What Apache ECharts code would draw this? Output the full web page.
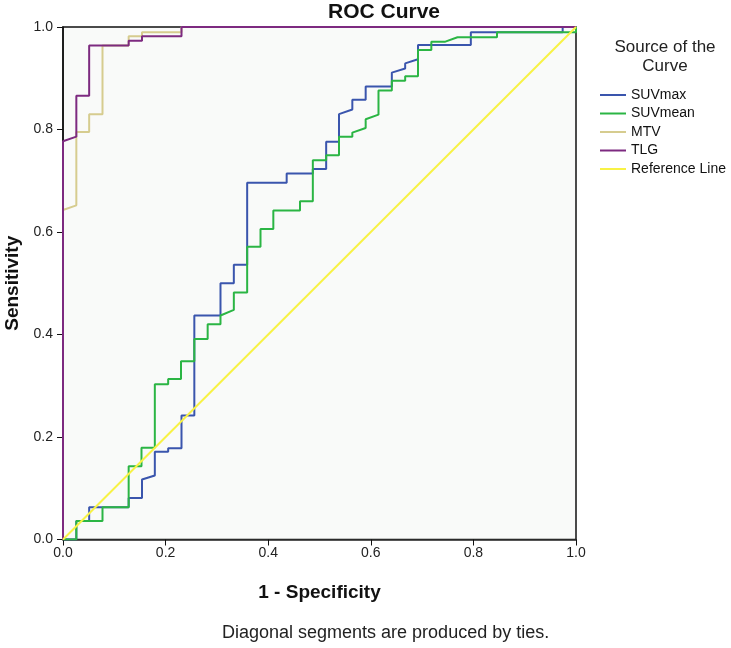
<!DOCTYPE html>
<html>
<head>
<meta charset="utf-8">
<script src="https://cdn.jsdelivr.net/npm/echarts@6/dist/echarts.min.js"></script>
<style>
  html, body { margin: 0; padding: 0; background: #fff; }
  #chart { width: 731px; height: 648px; }
</style>
</head>
<body>
<div id="chart"></div>
<script>
// ROC points [1 - specificity, sensitivity]
const suvmax = [
  [0, 0], [0.026, 0], [0.026, 0.036], [0.051, 0.036], [0.051, 0.063], [0.128, 0.063],
  [0.128, 0.081], [0.154, 0.081], [0.154, 0.117], [0.179, 0.125], [0.179, 0.171],
  [0.205, 0.171], [0.205, 0.178], [0.231, 0.178], [0.231, 0.242], [0.256, 0.242],
  [0.256, 0.437], [0.307, 0.437], [0.307, 0.500], [0.333, 0.500], [0.333, 0.536],
  [0.359, 0.536], [0.359, 0.696], [0.436, 0.696], [0.436, 0.714], [0.487, 0.714],
  [0.487, 0.723], [0.513, 0.723], [0.513, 0.776], [0.538, 0.776], [0.538, 0.830],
  [0.564, 0.839], [0.564, 0.858], [0.590, 0.858], [0.590, 0.884], [0.641, 0.884],
  [0.641, 0.911], [0.667, 0.919], [0.667, 0.929], [0.692, 0.937], [0.692, 0.965],
  [0.795, 0.965], [0.795, 0.990], [0.974, 0.990], [0.974, 1], [1, 1]
];
const suvmean = [
  [0, 0], [0.026, 0], [0.026, 0.036], [0.077, 0.036], [0.077, 0.063], [0.128, 0.063],
  [0.128, 0.143], [0.153, 0.143], [0.153, 0.179], [0.179, 0.179], [0.179, 0.303],
  [0.205, 0.303], [0.205, 0.313], [0.230, 0.313], [0.230, 0.348], [0.256, 0.348],
  [0.256, 0.391], [0.282, 0.391], [0.282, 0.420], [0.307, 0.420], [0.307, 0.437],
  [0.333, 0.448], [0.333, 0.482], [0.359, 0.482], [0.359, 0.571], [0.385, 0.571],
  [0.385, 0.606], [0.410, 0.606], [0.410, 0.642], [0.462, 0.642], [0.462, 0.660],
  [0.487, 0.660], [0.487, 0.740], [0.513, 0.740], [0.513, 0.750], [0.538, 0.750],
  [0.538, 0.786], [0.564, 0.786], [0.564, 0.794], [0.590, 0.803], [0.590, 0.820],
  [0.615, 0.829], [0.615, 0.876], [0.641, 0.876], [0.641, 0.895], [0.667, 0.895],
  [0.667, 0.904], [0.692, 0.904], [0.692, 0.955], [0.718, 0.955], [0.718, 0.971],
  [0.744, 0.971], [0.769, 0.980], [0.846, 0.980], [0.846, 0.990], [1, 0.990], [1, 1]
];
const mtv = [
  [0, 0], [0, 0.643], [0.026, 0.652], [0.026, 0.795], [0.051, 0.795], [0.051, 0.830],
  [0.077, 0.830], [0.077, 0.964], [0.128, 0.964], [0.128, 0.982], [0.154, 0.982],
  [0.154, 0.990], [0.231, 0.990], [0.231, 1], [1, 1]
];
const tlg = [
  [0, 0], [0, 0.777], [0.026, 0.786], [0.026, 0.866], [0.051, 0.866], [0.051, 0.964],
  [0.128, 0.964], [0.128, 0.973], [0.154, 0.973], [0.154, 0.982], [0.231, 0.982],
  [0.231, 1], [1, 1]
];
const refLine = [[0, 0], [1, 1]];

const seriesNames = ['SUVmax', 'SUVmean', 'MTV', 'TLG', 'Reference Line'];
const seriesColors = ['#3a55ad', '#2bb544', '#d6cc8f', '#7d2a80', '#f8f245'];
const seriesData = [suvmax, suvmean, mtv, tlg, refLine];

const font = '"Liberation Sans", Arial, sans-serif';

const chart = echarts.init(document.getElementById('chart'));

const option = {
  backgroundColor: '#ffffff',
  animation: false,
  title: [
    {
      text: 'ROC Curve', left: 379, top: -3, textAlign: 'center',
      textStyle: { fontFamily: font, fontSize: 21, fontWeight: 'bold', color: '#111' }
    },
    {
      text: 'Source of the\nCurve', left: 660, top: 33, textAlign: 'center',
      textStyle: { fontFamily: font, fontSize: 17, fontWeight: 'normal', color: '#222', lineHeight: 19 }
    }
  ],
  legend: {
    orient: 'vertical',
    left: 600,
    top: 88,
    padding: 0,
    itemWidth: 26,
    itemHeight: 2,
    itemGap: 4.5,
    icon: 'rect',
    data: seriesNames,
    textStyle: { fontFamily: font, fontSize: 14, color: '#111' }
  },
  grid: {
    left: 63, right: 155, top: 27, bottom: 108.5,
    outerBoundsMode: 'none',
    containLabel: false,
    show: true, borderColor: '#111', borderWidth: 1.5, backgroundColor: '#f9faf9'
  },
  xAxis: {
    type: 'value', min: 0, max: 1, interval: 0.2,
    name: '1 - Specificity', nameLocation: 'middle', nameGap: 44,
    nameTextStyle: { fontFamily: font, fontSize: 19, fontWeight: 'bold', color: '#111' },
    axisLine: { onZero: false, lineStyle: { color: '#333', width: 1.5 } },
    axisTick: { show: true, length: 6, lineStyle: { color: '#111' } },
    axisLabel: {
      fontFamily: font, fontSize: 14, color: '#222', margin: 7,
      formatter: v => v.toFixed(1)
    },
    splitLine: { show: false }
  },
  yAxis: {
    type: 'value', min: 0, max: 1, interval: 0.2,
    name: 'Sensitivity', nameLocation: 'middle', nameGap: 40,
    nameTextStyle: { fontFamily: font, fontSize: 19, fontWeight: 'bold', color: '#111' },
    axisLine: { onZero: false, lineStyle: { color: '#111', width: 1.5 } },
    axisTick: { show: true, length: 6, lineStyle: { color: '#111' } },
    axisLabel: {
      fontFamily: font, fontSize: 14, color: '#222', margin: 10,
      formatter: v => v.toFixed(1)
    },
    splitLine: { show: false }
  },
  series: seriesNames.map((name, i) => ({
    name: name,
    type: 'line',
    data: seriesData[i],
    symbol: 'none',
    color: seriesColors[i],
    lineStyle: { width: 2, color: seriesColors[i] },
    z: 2 + i
  })),
  graphic: [
    {
      type: 'text', left: 222, top: 624,
      style: {
        text: 'Diagonal segments are produced by ties.',
        font: '18px ' + font, fill: '#222'
      }
    }
  ]
};

chart.setOption(option);
</script>
</body>
</html>
